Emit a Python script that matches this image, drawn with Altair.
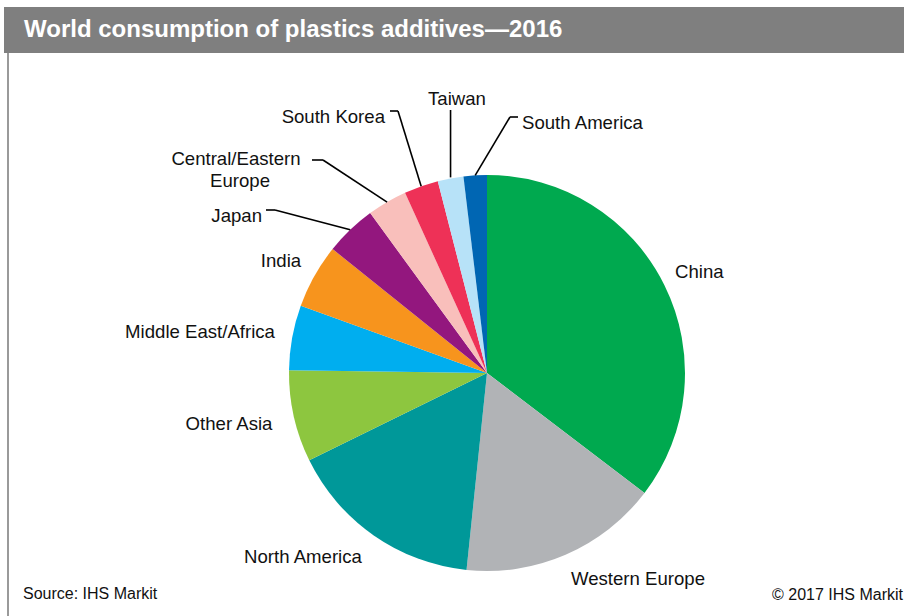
import math
import altair as alt
import pandas as pd

# ---- data ----
regions = ["China", "Western Europe", "North America", "Other Asia",
           "Middle East/Africa", "India", "Japan", "Central/Eastern Europe",
           "South Korea", "Taiwan", "South America"]
shares = [35.4, 16.3, 16.1, 7.5, 5.3, 5.25, 4.2, 3.25, 2.8, 2.1, 1.9]
colors = ["#00a94f", "#b1b3b6", "#009899", "#8dc63f", "#00aeef", "#f7941d",
          "#93177e", "#f9bfbb", "#ee3157", "#b7e2f8", "#0066b3"]

title_text = "World consumption of plastics additives\u20142016"
source_text = "Source: IHS Markit"
copyright_text = "\u00a9 2017 IHS Markit"

# ---- layout (annotation placement, pixels) ----
W, H = 904, 616
CX, CY, R = 487, 373, 198
FONT = "Liberation Sans"
LABEL_SIZE = 18.6

# label: list of (text line, x, y, align); elbow: (x, y) of leader bend, tail: end x of horizontal segment
label_layout = {
    "China": dict(lines=[("China", 675, 272, "left")]),
    "Western Europe": dict(lines=[("Western Europe", 638, 579, "center")]),
    "North America": dict(lines=[("North America", 303, 557, "center")]),
    "Other Asia": dict(lines=[("Other Asia", 229, 424, "center")]),
    "Middle East/Africa": dict(lines=[("Middle East/Africa", 200, 332, "center")]),
    "India": dict(lines=[("India", 281, 261, "center")]),
    "Japan": dict(lines=[("Japan", 262, 216, "right")], elbow=(275, 210), tail=266),
    "Central/Eastern Europe": dict(lines=[("Central/Eastern", 236, 159, "center"),
                                          ("Europe", 240, 181, "center")],
                                   elbow=(323, 160), tail=312),
    "South Korea": dict(lines=[("South Korea", 385, 117, "right")], elbow=(398, 111), tail=390),
    "Taiwan": dict(lines=[("Taiwan", 457, 99, "center")], elbow=None, top=110),
    "South America": dict(lines=[("South America", 522, 123, "left")], elbow=(510, 117), tail=518),
}

# ---- tables built from the data ----
pie_df = pd.DataFrame({"region": regions, "share": shares, "idx": range(len(regions))})

total = sum(shares)
label_rows, seg_rows = [], []
cum = 0.0
for name, v in zip(regions, shares):
    mid = (cum + v / 2) / total * 2 * math.pi
    cum += v
    rim_x = CX + R * math.sin(mid)
    rim_y = CY - R * math.cos(mid)
    lay = label_layout[name]
    for txt, lx, ly, al in lay["lines"]:
        label_rows.append({"text": txt, "x": lx, "y": ly, "align": al})
    if "elbow" in lay:
        if lay["elbow"] is None:
            seg_rows.append({"x": rim_x, "y": rim_y - 1, "x2": rim_x, "y2": lay["top"]})
        else:
            ex, ey = lay["elbow"]
            seg_rows.append({"x": rim_x, "y": rim_y, "x2": ex, "y2": ey})
            seg_rows.append({"x": ex, "y": ey, "x2": lay["tail"], "y2": ey})

labels_df = pd.DataFrame(label_rows)
segs_df = pd.DataFrame(seg_rows)

color_scale = alt.Scale(domain=regions, range=colors)

pie = alt.Chart(pie_df).mark_arc(outerRadius=R, stroke=None).encode(
    theta=alt.Theta("share:Q", stack=True),
    order=alt.Order("idx:Q"),
    color=alt.Color("region:N", scale=color_scale, legend=None),
    x=alt.value(CX),
    y=alt.value(CY),
)

leaders = alt.Chart(segs_df).mark_rule(color="#000000", strokeWidth=1.6).encode(
    x=alt.X("x:Q", scale=None),
    y=alt.Y("y:Q", scale=None),
    x2="x2:Q",
    y2="y2:Q",
)

def text_layer(align):
    d = labels_df[labels_df["align"] == align]
    return alt.Chart(d).mark_text(font=FONT, fontSize=LABEL_SIZE, color="#111111",
                                  align=align, baseline="middle").encode(
        x=alt.X("x:Q", scale=None),
        y=alt.Y("y:Q", scale=None),
        text="text:N",
    )

title_bar = alt.Chart(pd.DataFrame({"t": [title_text]})).mark_rect(color="#7f7f7f").encode(
    x=alt.value(4), x2=alt.value(W), y=alt.value(7), y2=alt.value(53)
)
title = alt.Chart(pd.DataFrame({"t": [title_text]})).mark_text(
    font=FONT, fontSize=24, fontWeight="bold", color="#ffffff", align="left", baseline="middle"
).encode(x=alt.value(24), y=alt.value(30), text="t:N")

border = alt.Chart(pd.DataFrame({"a": [0]})).mark_rule(color="#9a9a9a", strokeWidth=2).encode(
    x=alt.value(8), y=alt.value(53), y2=alt.value(H)
)

source = alt.Chart(pd.DataFrame({"t": [source_text]})).mark_text(
    font=FONT, fontSize=16, color="#111111", align="left", baseline="middle"
).encode(x=alt.value(23), y=alt.value(594), text="t:N")
copyright_ = alt.Chart(pd.DataFrame({"t": [copyright_text]})).mark_text(
    font=FONT, fontSize=16, color="#111111", align="right", baseline="middle"
).encode(x=alt.value(903), y=alt.value(595), text="t:N")

chart = alt.layer(
    title_bar, title, border, pie, leaders,
    text_layer("left"), text_layer("center"), text_layer("right"),
    source, copyright_,
).properties(
    width=W, height=H, padding=0, autosize=alt.AutoSizeParams(type="none"),
    background="#ffffff",
).configure_view(stroke=None)

chart.save("out.html", embed_options={"renderer": "svg", "actions": False})
